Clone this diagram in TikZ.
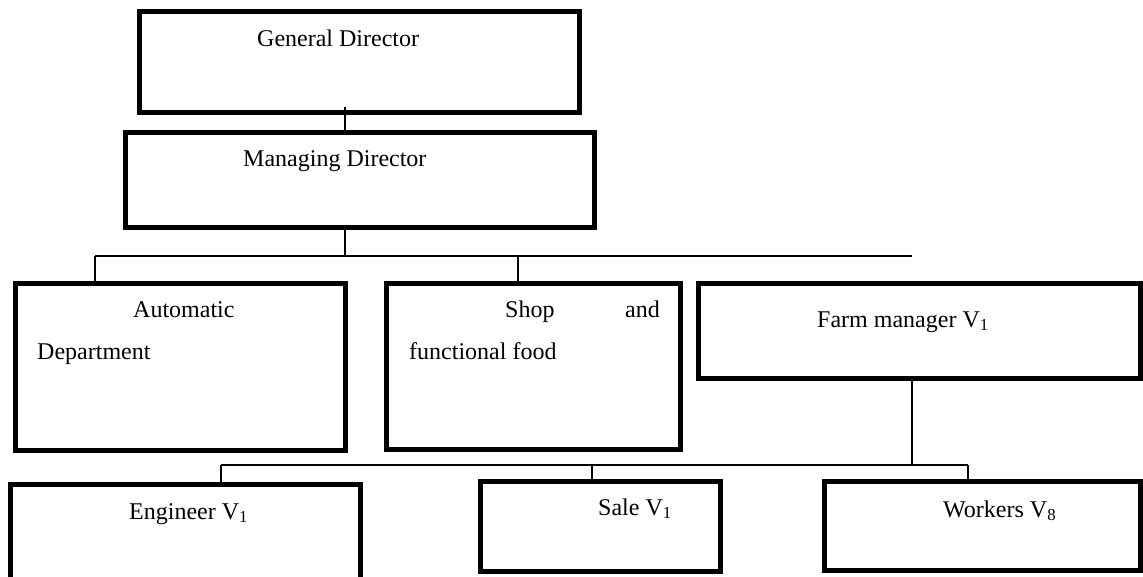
\documentclass[tikz,border=0pt]{standalone}
\usepackage{fontspec}
\setmainfont{Liberation Serif}
\begin{document}
\begin{tikzpicture}[x=1pt,y=-1pt,
  unitbox/.style={draw=black,line width=5pt,rectangle,inner sep=0pt,outer sep=0pt,anchor=north west},
  link/.style={draw=black,line width=1.3pt},
  lbl/.style={anchor=base west,inner sep=0pt,font=\fontsize{24}{29}\selectfont}]
\useasboundingbox (0,0) rectangle (1143,577);
\clip (0,0) rectangle (1143,577);
\fill[white] (0,0) rectangle (1143,577);

% boxes (stroke centre lines)
\node[unitbox,minimum width=440pt,minimum height=101pt] (gd) at (139.5,11.5) {};
\node[unitbox,minimum width=469pt,minimum height=95pt] (md) at (125.5,132.5) {};
\node[unitbox,minimum width=330pt,minimum height=167pt] (ad) at (15.5,283.5) {};
\node[unitbox,minimum width=294pt,minimum height=166pt] (sf) at (386.5,283.5) {};
\node[unitbox,minimum width=442pt,minimum height=95pt] (fm) at (698.5,283.5) {};
\node[unitbox,minimum width=350pt,minimum height=120pt] (en) at (10.5,484.5) {};
\node[unitbox,minimum width=240pt,minimum height=90pt] (sl) at (480.5,481.5) {};
\node[unitbox,minimum width=316pt,minimum height=89pt] (wk) at (824.5,481.5) {};

% labels
\node[lbl] (tgd) at (257,47) {General Director};
\node[lbl] (tmd) at (243,167) {Managing Director};
\node[lbl] (tad1) at (133,317) {Automatic};
\node[lbl] (tad2) at (37,359) {Department};
\node[lbl] (tsf1) at (505,317) {Shop};
\node[lbl] (tsf2) at (625,317) {and};
\node[lbl] (tsf3) at (409,359) {functional food};
\node[lbl] (tfm) at (817,327) {Farm manager V\textsubscript{1}};
\node[lbl] (ten) at (129,519) {Engineer V\textsubscript{1}};
\node[lbl] (tsl) at (598,515) {Sale V\textsubscript{1}};
\node[lbl] (twk) at (943,517) {Workers V\textsubscript{8}};

% junction points
\coordinate (ja) at (345,256);
\coordinate (jl) at (95,256);
\coordinate (jm) at (518,256);
\coordinate (jr) at (912,256);
\coordinate (jb) at (912,465);
\coordinate (kl) at (221,465);
\coordinate (km) at (592,465);
\coordinate (kr) at (968,465);

% connectors
\draw[link] (345,107) -- (md.north -| ja);
\draw[link] (md.south -| ja) -- (ja);
\draw[link] (jl) -- (jr);
\draw[link] (jl) -- (ad.north -| jl);
\draw[link] (jm) -- (sf.north -| jm);
\draw[link] (fm.south -| jb) -- (jb);
\draw[link] (kl) -- (kr);
\draw[link] (kl) -- (en.north -| kl);
\draw[link] (km) -- (sl.north -| km);
\draw[link] (kr) -- (wk.north -| kr);
\end{tikzpicture}
\end{document}
